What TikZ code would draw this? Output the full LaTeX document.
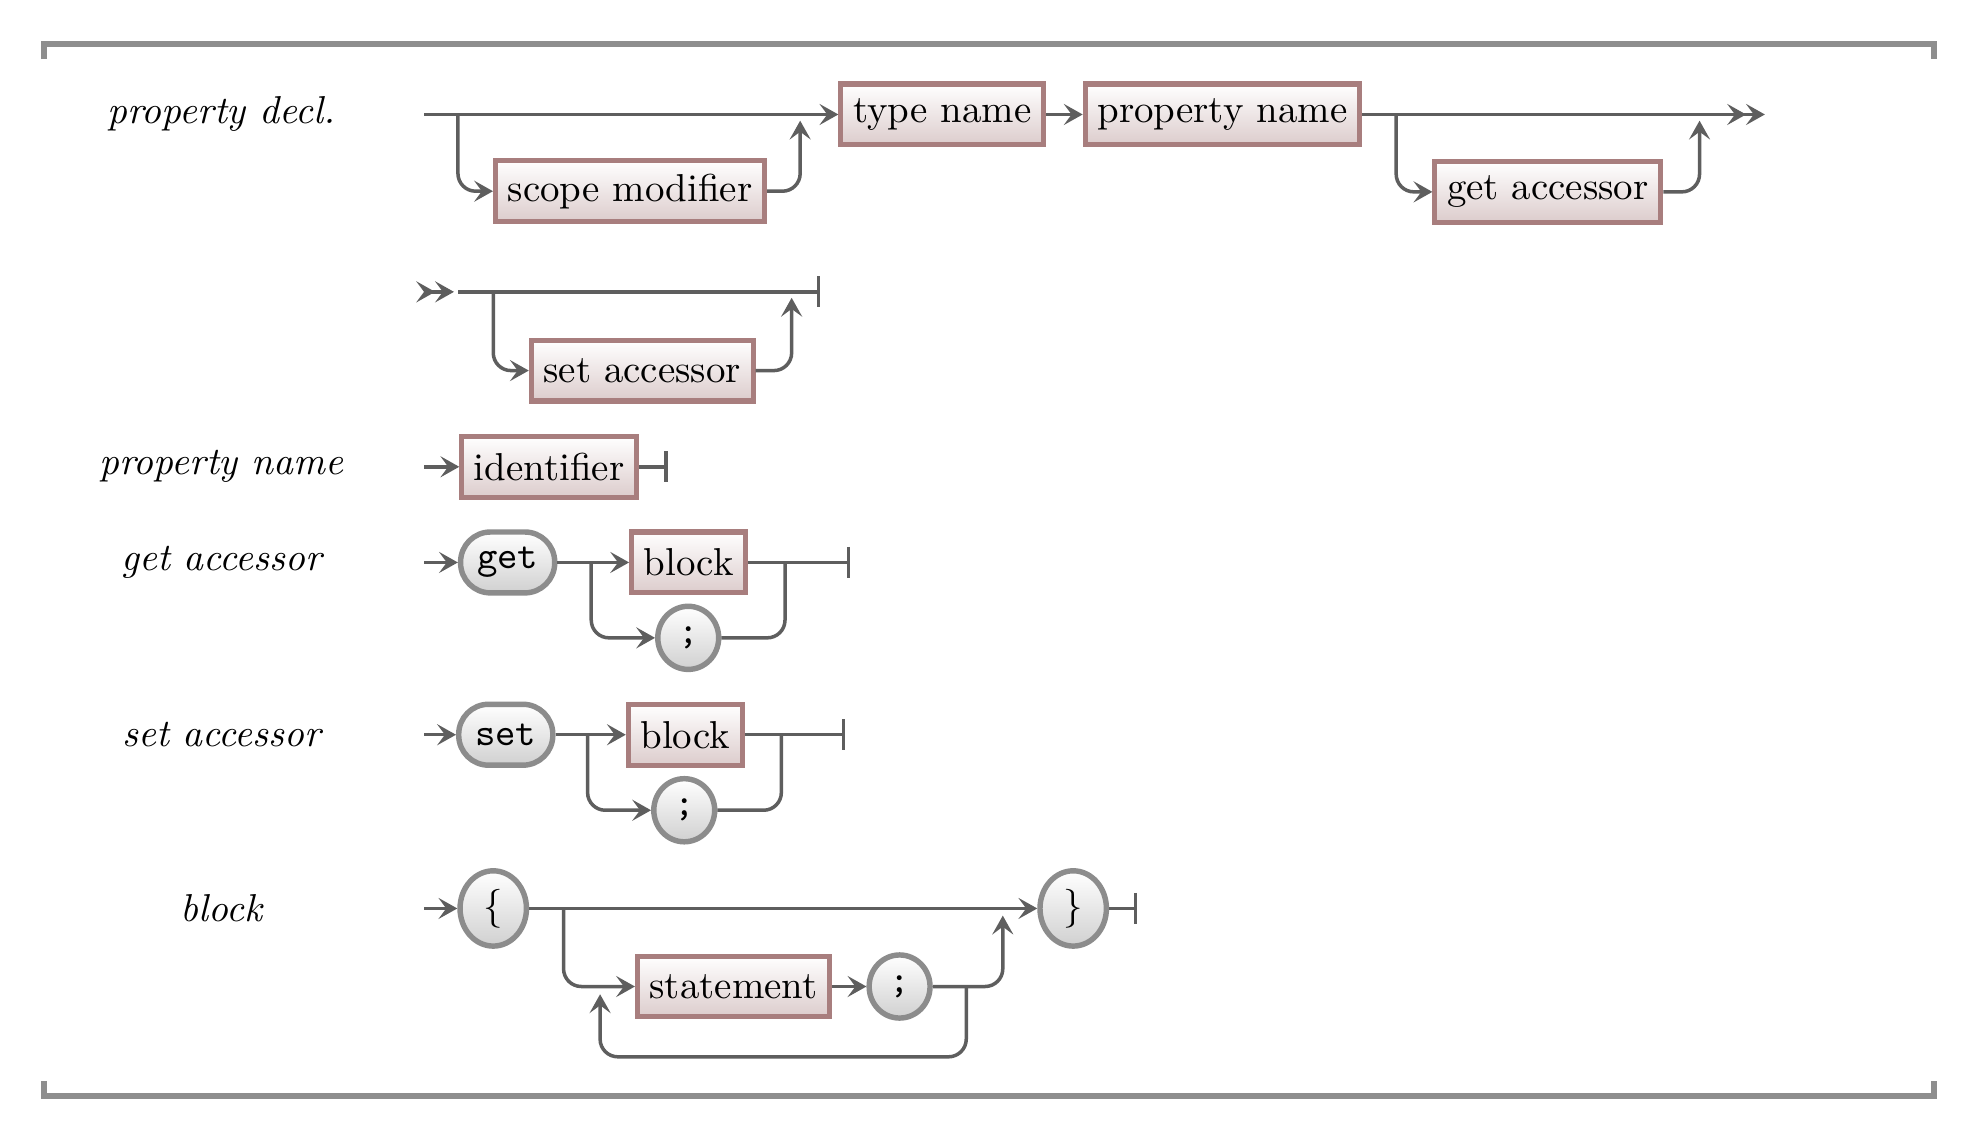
\documentclass[tikz,border=0pt]{standalone}
\usetikzlibrary{arrows.meta,shapes.geometric}
\definecolor{railgray}{HTML}{5E5E5E}
\definecolor{framegray}{HTML}{8E8E8E}
\definecolor{ntborder}{HTML}{A87E7E}
\definecolor{ntfill}{HTML}{DCCCCC}
\definecolor{tborder}{HTML}{8C8C8C}
\definecolor{tfill}{HTML}{D0D0D0}
\tikzset{
  nonterm/.style={draw=ntborder, line width=1.3pt, top color=white, bottom color=ntfill,
    minimum height=0.55cm, inner xsep=1.1mm, inner ysep=0pt},
  term/.style={draw=tborder, line width=1.4pt, top color=white, bottom color=tfill,
    rounded corners=0.27cm, minimum height=0.55cm, minimum width=0.85cm, font=\ttfamily},
  tok/.style={draw=tborder, line width=1.4pt, top color=white, bottom color=tfill,
    ellipse, minimum width=0.55cm, minimum height=0.57cm, inner sep=0pt},
  rail/.style={draw=railgray, line width=0.9pt, rounded corners=1.6mm},
  rulename/.style={font=\itshape},
  >={Stealth[length=1.7mm,width=1.9mm,inset=0.7mm]},
}
\begin{document}
\begin{tikzpicture}
\useasboundingbox (0,0) rectangle (17.82,-10.31);
% frame
\draw[framegray, line width=1.5pt] (0.398,-0.534) -- (0.398,-0.398) -- (17.466,-0.398) -- (17.466,-0.534);
\draw[framegray, line width=1.5pt] (0.398,-9.762) -- (0.398,-9.898) -- (17.466,-9.898) -- (17.466,-9.762);

% property decl.
\node[rulename] (pdlabel) at (2.0,-1.034) {property decl.};
\coordinate (pdin) at (3.83,-1.034);
\node[nonterm] (scopemod) at (5.69,-1.727) {scope modifier};
\node[nonterm] (typename) at (8.51,-1.034) {type name};
\node[nonterm] (propname) at (11.04,-1.034) {property name};
\node[nonterm] (getacc) at (13.98,-1.733) {get accessor};
\coordinate (pdout) at (15.94,-1.034);
\coordinate (pdsplit) at (4.136,-1.034);
\coordinate (pdjoin) at (7.227,-1.09);
\coordinate (gasplit) at (12.61,-1.034);
\coordinate (gajoin) at (15.35,-1.09);
\path[rail,->] (pdin) -- (typename);
\path[rail,->] (pdsplit) |- (scopemod);
\path[rail,->] (scopemod) -| (pdjoin);
\path[rail,->] (typename) -- (propname);
\path[rail,->>] (propname) -- (pdout);
\path[rail,->] (gasplit) |- (getacc);
\path[rail,->] (getacc) -| (gajoin);

% continuation
\coordinate (cin) at (3.83,-2.636);
\coordinate (cmid) at (4.10,-2.636);
\coordinate (cline) at (4.14,-2.636);
\coordinate (cout) at (7.41,-2.636);
\node[nonterm] (setacc) at (5.80,-3.347) {set accessor};
\coordinate (sasplit) at (4.455,-2.636);
\coordinate (sajoin) at (7.15,-2.69);
\path[rail,->>] (cin) -- (cmid);
\path[rail,-{Bar[width=2.8mm]}] (cline) -- (cout);
\path[rail,->] (sasplit) |- (setacc);
\path[rail,->] (setacc) -| (sajoin);

% property name
\node[rulename] (pnlabel) at (2.0,-4.216) {property name};
\coordinate (pnin) at (3.83,-4.216);
\node[nonterm] (ident) at (4.96,-4.216) {identifier};
\coordinate (pnout) at (6.03,-4.216);
\path[rail,->] (pnin) -- (ident);
\path[rail,-{Bar[width=2.8mm]}] (ident) -- (pnout);

% get accessor
\node[rulename] (galabel) at (2.0,-5.08) {get accessor};
\coordinate (gain) at (3.83,-5.08);
\node[term] (getkw) at (4.585,-5.08) {get};
\node[nonterm] (gablock) at (6.22,-5.08) {block};
\node[tok, font=\ttfamily] (gasemi) at (6.216,-5.761) {;};
\coordinate (gbsplit) at (5.34,-5.08);
\coordinate (gbjoin) at (7.09,-5.08);
\coordinate (gaout) at (7.68,-5.08);
\path[rail,->] (gain) -- (getkw);
\path[rail,->] (getkw) -- (gablock);
\path[rail,->] (gbsplit) |- (gasemi);
\path[rail,-{Bar[width=2.8mm]}] (gablock) -- (gaout);
\path[rail] (gasemi) -| (gbjoin);

% set accessor
\node[rulename] (salabel) at (2.0,-6.636) {set accessor};
\coordinate (sain) at (3.83,-6.636);
\node[term] (setkw) at (4.568,-6.636) {set};
\node[nonterm] (sablock) at (6.19,-6.636) {block};
\node[tok, font=\ttfamily] (sasemi) at (6.18,-7.318) {;};
\coordinate (sbsplit) at (5.307,-6.636);
\coordinate (sbjoin) at (7.057,-6.636);
\coordinate (saout) at (7.636,-6.636);
\path[rail,->] (sain) -- (setkw);
\path[rail,->] (setkw) -- (sablock);
\path[rail,->] (sbsplit) |- (sasemi);
\path[rail,-{Bar[width=2.8mm]}] (sablock) -- (saout);
\path[rail] (sasemi) -| (sbjoin);

% block
\node[rulename] (blklabel) at (2.0,-8.205) {block};
\coordinate (blkin) at (3.83,-8.205);
\node[tok, minimum width=0.6cm, minimum height=0.68cm] (lbrace) at (4.455,-8.205) {$\{$};
\node[tok, minimum width=0.6cm, minimum height=0.68cm] (rbrace) at (9.693,-8.205) {$\}$};
\node[nonterm] (stmt) at (6.625,-8.91) {statement};
\node[tok, font=\ttfamily] (stsemi) at (8.125,-8.91) {;};
\coordinate (blksplit) at (5.09,-8.205);
\coordinate (blkjoin) at (9.057,-8.27);
\coordinate (loopa) at (8.727,-8.91);
\coordinate (loopb) at (5.42,-9.545);
\coordinate (loopc) at (5.42,-8.98);
\coordinate (blkout) at (10.27,-8.205);
\path[rail,->] (blkin) -- (lbrace);
\path[rail,->] (lbrace) -- (rbrace);
\path[rail,->] (blksplit) |- (stmt);
\path[rail,->] (stmt) -- (stsemi);
\path[rail,->] (stsemi) -| (blkjoin);
\path[rail,->] (loopa) |- (loopb) -- (loopc);
\path[rail,-{Bar[width=2.8mm]}] (rbrace) -- (blkout);
\end{tikzpicture}
\end{document}
